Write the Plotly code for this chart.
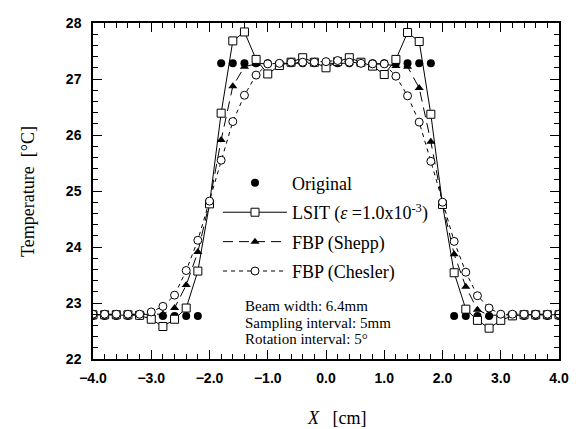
import plotly.graph_objects as go

# ---- data ----
x_cm = [-4.0, -3.8, -3.6, -3.4, -3.2, -3.0, -2.8, -2.6, -2.4, -2.2, -2.0,
        -1.8, -1.6, -1.4, -1.2, -1.0, -0.8, -0.6, -0.4, -0.2, 0.0,
        0.2, 0.4, 0.6, 0.8, 1.0, 1.2, 1.4, 1.6, 1.8, 2.0,
        2.2, 2.4, 2.6, 2.8, 3.0, 3.2, 3.4, 3.6, 3.8, 4.0]

original = [22.77, 22.77, 22.77, 22.77, 22.77, 22.77, 22.77, 22.77, 22.77, 22.77, None,
            27.28, 27.28, 27.28, 27.28, 27.28, 27.28, 27.28, 27.28, 27.28, 27.28,
            27.28, 27.28, 27.28, 27.28, 27.28, 27.28, 27.28, 27.28, 27.28, None,
            22.77, 22.77, 22.77, 22.77, 22.77, 22.77, 22.77, 22.77, 22.77, 22.77]

lsit = [22.79, 22.79, 22.79, 22.79, 22.78, 22.71, 22.58, 22.71, 22.91, 23.57, 24.77,
        26.39, 27.68, 27.84, 27.35, 27.09, 27.24, 27.30, 27.38, 27.30, 27.20,
        27.31, 27.38, 27.30, 27.23, 27.08, 27.35, 27.83, 27.67, 26.37, 24.76,
        23.54, 22.89, 22.69, 22.55, 22.69, 22.77, 22.79, 22.79, 22.79, 22.79]

shepp = [22.79, 22.79, 22.79, 22.79, 22.79, 22.80, 22.80, 22.91, 23.32, 23.91, 24.80,
         25.91, 26.87, 27.22, 27.27, 27.28, 27.28, 27.29, 27.29, 27.29, 27.29,
         27.29, 27.29, 27.28, 27.27, 27.27, 27.23, 27.22, 26.84, 25.88, 24.78,
         23.87, 23.29, 22.88, 22.78, 22.79, 22.79, 22.79, 22.79, 22.79, 22.79]

chesler = [22.80, 22.80, 22.80, 22.80, 22.80, 22.84, 22.94, 23.14, 23.58, 24.12, 24.82,
           25.55, 26.24, 26.71, 27.07, 27.27, 27.28, 27.30, 27.30, 27.30, 27.31,
           27.33, 27.30, 27.28, 27.27, 27.27, 27.05, 26.70, 26.23, 25.53, 24.80,
           24.10, 23.55, 23.13, 22.91, 22.80, 22.80, 22.80, 22.80, 22.80, 22.80]

x_ticks = [-4.0, -3.0, -2.0, -1.0, 0.0, 1.0, 2.0, 3.0, 4.0]
y_ticks = [22, 23, 24, 25, 26, 27, 28]

notes = ["Beam width: 6.4mm", "Sampling interval: 5mm", "Rotation interval: 5°"]

SERIF = "Liberation Serif"
SANS = "Liberation Sans"

fig = go.Figure()

fig.add_trace(go.Scatter(
    x=x_cm, y=original, mode="markers", name="Original",
    marker=dict(symbol="circle", size=8, color="black"),
    legendrank=1, legendgroup="a"))

fig.add_trace(go.Scatter(
    x=x_cm, y=shepp, mode="lines+markers", name="FBP (Shepp)",
    line=dict(color="black", width=1, dash="10px,6px"),
    marker=dict(symbol="triangle-up", size=8, color="black"),
    legendrank=3, legendgroup="c"))

fig.add_trace(go.Scatter(
    x=x_cm, y=lsit, mode="lines+markers",
    name="LSIT (<i>ε</i> =1.0x10<sup>-3</sup>)",
    line=dict(color="black", width=1),
    marker=dict(symbol="square", size=8, color="white",
                line=dict(color="black", width=1)),
    legendrank=2, legendgroup="b"))

fig.add_trace(go.Scatter(
    x=x_cm, y=chesler, mode="lines+markers", name="FBP (Chesler)",
    line=dict(color="black", width=1, dash="4px,4px"),
    marker=dict(symbol="circle", size=8, color="white",
                line=dict(color="black", width=1)),
    legendrank=4, legendgroup="d"))

# page has an 8px body margin; figure is sized so the plot area lands where the reference has it
W, H = 574, 421
ML, MR, MT, MB = 85, 23, 7, 70
PW, PH = W - ML - MR, H - MT - MB


def px_x(px):
    return (px - 8 - ML) / PW


def px_y(py):
    return (H - MB - (py - 8)) / PH


annotations = [
    dict(text="Temperature  [°C]", x=px_x(28), y=px_y(188), xref="paper", yref="paper",
         xanchor="center", yanchor="middle",
         textangle=-90, showarrow=False, font=dict(family=SERIF, size=18, color="black")),
    dict(text="<i>X</i>   [cm]", x=px_x(336), y=px_y(419), xref="paper", yref="paper",
         xanchor="center", yanchor="middle",
         showarrow=False, font=dict(family=SERIF, size=18, color="black")),
]
for t, py in zip(notes, [305, 322, 339]):
    annotations.append(dict(text=t, x=px_x(243), y=px_y(py), xref="paper", yref="paper",
                            xanchor="left", yanchor="middle", showarrow=False,
                            font=dict(family=SERIF, size=15, color="black")))

fig.update_layout(
    width=W, height=H,
    margin=dict(l=ML, r=MR, t=MT, b=MB),
    paper_bgcolor="white", plot_bgcolor="white",
    showlegend=True,
    legend=dict(x=px_x(218), y=px_y(160), xanchor="left", yanchor="top",
                bgcolor="rgba(0,0,0,0)", borderwidth=0,
                font=dict(family=SERIF, size=18, color="black"),
                itemwidth=64, tracegroupgap=3, traceorder="grouped"),
    annotations=annotations,
    xaxis=dict(range=[-4.0, 4.0], tickvals=x_ticks, tickformat=".1f",
               showgrid=False, zeroline=False, showline=True, linecolor="black",
               linewidth=1.5, mirror="ticks", ticks="inside", ticklen=9,
               tickcolor="black", tickwidth=1,
               minor=dict(dtick=0.2, ticks="inside", ticklen=5, tickcolor="black", tickwidth=1),
               tickfont=dict(family=SANS, size=14, color="black", weight="bold"),
               ticklabelstandoff=5),
    yaxis=dict(range=[22, 28], tickvals=y_ticks,
               showgrid=False, zeroline=False, showline=True, linecolor="black",
               linewidth=1.5, mirror="ticks", ticks="inside", ticklen=9,
               tickcolor="black", tickwidth=1,
               minor=dict(dtick=0.2, ticks="inside", ticklen=5, tickcolor="black", tickwidth=1),
               tickfont=dict(family=SANS, size=14, color="black", weight="bold"),
               ticklabelstandoff=7),
)

fig.write_html("out.html")
